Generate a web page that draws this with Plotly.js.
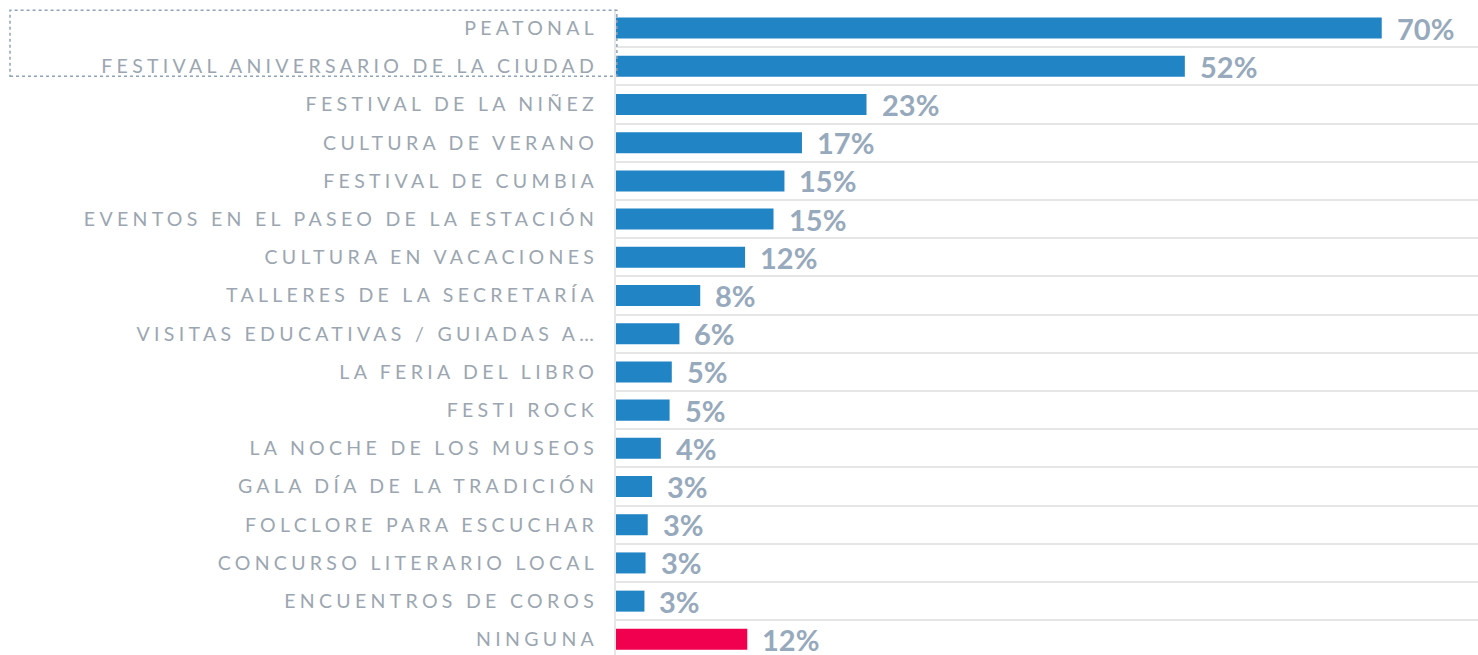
<!DOCTYPE html>
<html>
<head>
<meta charset="utf-8">
<script src="https://cdn.plot.ly/plotly-3.0.1.min.js"></script>
<style>
  html, body { margin: 0; padding: 0; background: #fff; }
  #chart { width: 1478px; height: 655px; }
  .ytick text { letter-spacing: 4.3px; }
</style>
</head>
<body>
<div id="chart"></div>
<script>
const categories = [
  "PEATONAL",
  "FESTIVAL ANIVERSARIO DE LA CIUDAD",
  "FESTIVAL DE LA NIÑEZ",
  "CULTURA DE VERANO",
  "FESTIVAL DE CUMBIA",
  "EVENTOS EN EL PASEO DE LA ESTACIÓN",
  "CULTURA EN VACACIONES",
  "TALLERES DE LA SECRETARÍA",
  "VISITAS EDUCATIVAS / GUIADAS A…",
  "LA FERIA DEL LIBRO",
  "FESTI ROCK",
  "LA NOCHE DE LOS MUSEOS",
  "GALA DÍA DE LA TRADICIÓN",
  "FOLCLORE PARA ESCUCHAR",
  "CONCURSO LITERARIO LOCAL",
  "ENCUENTROS DE COROS",
  "NINGUNA"
];
const values = [70.0, 52.0, 22.9, 17.0, 15.4, 14.4, 11.8, 7.7, 5.8, 5.1, 4.9, 4.1, 3.3, 2.9, 2.7, 2.6, 12.0];
const valueLabels = ["70%", "52%", "23%", "17%", "15%", "15%", "12%", "8%", "6%", "5%", "5%", "4%", "3%", "3%", "3%", "3%", "12%"];

const BLUE = "#2185c5";
const RED = "#f0004f";
const barColors = categories.map(c => c === "NINGUNA" ? RED : BLUE);

const trace = {
  type: "bar",
  orientation: "h",
  x: values,
  y: categories,
  marker: { color: barColors, line: { width: 0 } },
  hoverinfo: "none"
};

const annotations = categories.map((c, i) => ({
  x: values[i],
  y: c,
  xref: "x",
  yref: "y",
  text: valueLabels[i],
  showarrow: false,
  xanchor: "left",
  yanchor: "middle",
  xshift: 13,
  yshift: 0,
  font: { family: "Lato", size: 29, weight: 700, color: "#97a9bc" }
}));

const n = categories.length;

const layout = {
  width: 1478,
  height: 655,
  margin: { l: 616, r: 0, t: 9, b: 0, pad: 0 },
  paper_bgcolor: "#ffffff",
  plot_bgcolor: "#ffffff",
  showlegend: false,
  bargap: 0.45,
  xaxis: {
    range: [0, 78.8],
    showgrid: false,
    zeroline: false,
    showticklabels: false,
    showline: false,
    fixedrange: true
  },
  yaxis: {
    type: "category",
    range: [n - 0.59, -0.5],
    tickson: "boundaries",
    showgrid: true,
    gridcolor: "#e6e6e6",
    gridwidth: 2,
    showline: true,
    linecolor: "#e6e6e6",
    linewidth: 2,
    ticks: "",
    ticklabelstandoff: 12,
    tickfont: { family: "Lato", size: 19.5, color: "#9ba6b1" },
    zeroline: false,
    fixedrange: true
  },
  annotations: annotations,
  shapes: [{
    type: "rect",
    xref: "paper",
    yref: "paper",
    x0: -0.703,
    x1: 0.001,
    y0: 0.896,
    y1: 0.998,
    line: { color: "#8fa3b8", width: 1.5, dash: "dot" },
    fillcolor: "rgba(0,0,0,0)",
    layer: "above"
  }]
};

Plotly.newPlot("chart", [trace], layout, { displayModeBar: false, staticPlot: true });
</script>
</body>
</html>
